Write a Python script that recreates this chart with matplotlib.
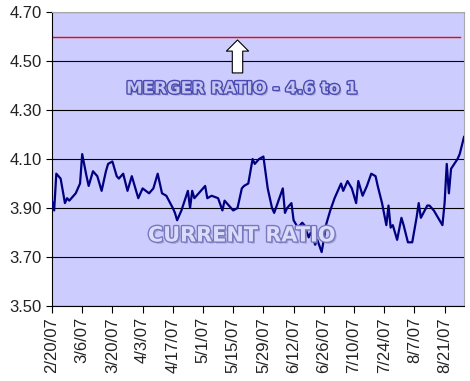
import matplotlib
matplotlib.use("Agg")
import matplotlib.pyplot as plt
import matplotlib.patheffects as pe
import pandas as pd

# daily closing ratio
dates = [
    "2/20/07", "2/21/07", "2/22/07", "2/24/07", "2/26/07", "2/27/07", "2/28/07",
    "3/3/07", "3/5/07", "3/6/07", "3/8/07", "3/9/07", "3/11/07", "3/13/07",
    "3/15/07", "3/17/07", "3/18/07", "3/20/07", "3/22/07", "3/23/07", "3/25/07",
    "3/27/07", "3/29/07", "3/30/07", "4/1/07", "4/3/07", "4/6/07", "4/8/07",
    "4/10/07", "4/12/07", "4/14/07", "4/17/07", "4/18/07", "4/19/07", "4/21/07",
    "4/24/07", "4/25/07", "4/26/07", "4/27/07", "4/29/07", "5/2/07", "5/3/07",
    "5/5/07", "5/8/07", "5/10/07", "5/11/07", "5/13/07", "5/15/07", "5/17/07",
    "5/19/07", "5/20/07", "5/22/07", "5/24/07", "5/25/07", "5/27/07", "5/29/07",
    "5/31/07", "6/2/07", "6/3/07", "6/5/07", "6/7/07", "6/8/07", "6/9/07",
    "6/11/07", "6/12/07", "6/14/07", "6/16/07", "6/17/07", "6/19/07", "6/20/07",
    "6/22/07", "6/23/07", "6/25/07", "6/26/07", "6/27/07", "6/29/07", "7/1/07",
    "7/3/07", "7/4/07", "7/5/07", "7/7/07", "7/9/07", "7/11/07", "7/12/07",
    "7/14/07", "7/16/07", "7/18/07", "7/20/07", "7/21/07", "7/23/07", "7/25/07",
    "7/26/07", "7/27/07", "7/28/07", "7/29/07", "7/30/07", "8/1/07", "8/2/07",
    "8/4/07", "8/6/07", "8/8/07", "8/9/07", "8/10/07", "8/13/07", "8/14/07",
    "8/16/07", "8/18/07", "8/20/07", "8/21/07", "8/22/07", "8/23/07", "8/24/07",
    "8/27/07", "8/28/07", "8/30/07",
]
ratio = [
    3.93, 3.89, 4.04, 4.02, 3.92, 3.94, 3.93,
    3.96, 4.00, 4.12, 4.03, 3.99, 4.05, 4.03,
    3.97, 4.05, 4.08, 4.09, 4.03, 4.02, 4.04,
    3.97, 4.03, 4.00, 3.94, 3.98, 3.96, 3.98,
    4.04, 3.96, 3.95, 3.90, 3.88, 3.85, 3.89,
    3.97, 3.90, 3.97, 3.94, 3.96, 3.99, 3.94,
    3.95, 3.94, 3.89, 3.93, 3.91, 3.89, 3.90,
    3.98, 3.99, 4.00, 4.10, 4.08, 4.10, 4.11,
    3.98, 3.90, 3.88, 3.93, 3.98, 3.88, 3.90,
    3.92, 3.85, 3.82, 3.84, 3.83, 3.78, 3.80,
    3.75, 3.77, 3.72, 3.77, 3.83, 3.89, 3.94,
    3.98, 4.00, 3.97, 4.01, 3.98, 3.92, 4.01,
    3.95, 3.99, 4.04, 4.03, 3.99, 3.92, 3.83,
    3.91, 3.82, 3.83, 3.80, 3.77, 3.86, 3.83,
    3.76, 3.76, 3.86, 3.92, 3.86, 3.91, 3.91,
    3.89, 3.86, 3.83, 3.92, 4.08, 3.96, 4.06,
    4.10, 4.12, 4.19,
]
merger_ratio = 4.6
y_ticks = [3.50, 3.70, 3.90, 4.10, 4.30, 4.50, 4.70]

x = pd.to_datetime(dates, format="%m/%d/%y")
tick_dates = pd.date_range("2007-02-20", periods=14, freq="14D")

fig = plt.figure(figsize=(4.7, 3.81), dpi=100)
ax = fig.add_axes([52 / 470, 75 / 381, 412 / 470, 294 / 381])
ax.set_facecolor("#ccccff")

ax.plot(x, ratio, color="#000080", lw=1.6, zorder=3)
ax.axhline(merger_ratio, color="#ff0000", lw=1.0, xmax=0.99, zorder=2)

ax.set_ylim(3.5, 4.7)
ax.set_xlim(pd.Timestamp("2007-02-20"), pd.Timestamp("2007-08-30"))
ax.set_yticks(y_ticks)
ax.set_yticklabels(["%.2f" % v for v in y_ticks])
ax.set_xticks(tick_dates)
ax.set_xticklabels([f"{d.month}/{d.day}/{d:%y}" for d in tick_dates], rotation=90)

ax.grid(axis="y", color="black", lw=0.8)
ax.set_axisbelow(True)
for s in ["top", "right"]:
    ax.spines[s].set_color("#a8a8a8")
for s in ["left", "bottom"]:
    ax.spines[s].set_color("black")
ax.tick_params(axis="both", direction="out", length=4, width=0.8,
               labelsize=12, labelcolor="#222222")
ax.tick_params(axis="x", length=5, pad=3)
for lab in ax.get_xticklabels() + ax.get_yticklabels():
    lab.set_family("Liberation Sans")

# white block arrow pointing at the merger line
arrow_day = pd.Timestamp("2007-05-17")
ax.annotate("", xy=(arrow_day, 4.597), xytext=(arrow_day, 4.44),
            arrowprops=dict(arrowstyle="simple,head_length=0.8,head_width=1.6,tail_width=0.75",
                            fc="white", ec="black", lw=0.8), zorder=4)

ax.text(0.46, 0.74, "MERGER RATIO - 4.6 to 1", transform=ax.transAxes,
        ha="center", va="center", fontsize=12, fontweight="bold", color="#c4c4f4",
        path_effects=[pe.SimplePatchShadow(offset=(1.5, -1.5), shadow_rgbFace="#8888aa", alpha=0.6),
                      pe.Stroke(linewidth=2, foreground="#4a4ab0"), pe.Normal()], zorder=5)
ax.text(0.46, 0.24, "CURRENT RATIO", transform=ax.transAxes,
        ha="center", va="center", fontsize=15, fontweight="bold", color="#dcdcfa",
        path_effects=[pe.SimplePatchShadow(offset=(1.5, -1.5), shadow_rgbFace="#8888aa", alpha=0.6),
                      pe.Stroke(linewidth=2, foreground="#7878c0"), pe.Normal()], zorder=5)

fig.savefig("out.png", dpi=100)
